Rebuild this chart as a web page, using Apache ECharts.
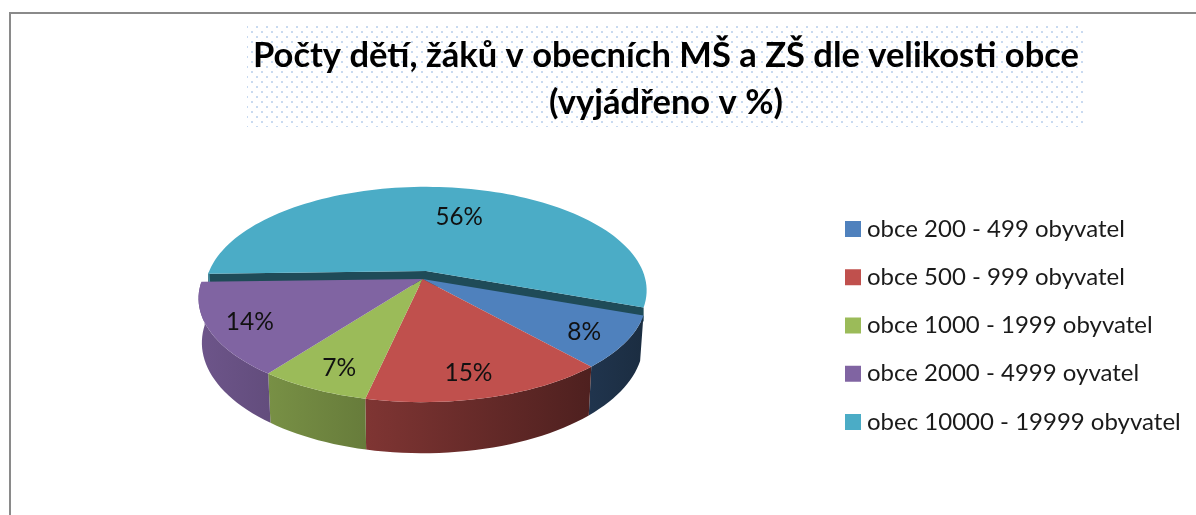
<!DOCTYPE html>
<html>
<head>
<meta charset="utf-8">
<style>
  html, body { margin: 0; padding: 0; background: #fff; }
  #chart { width: 1196px; height: 515px; }
</style>
</head>
<body>
<div id="chart"></div>
<script src="https://cdn.jsdelivr.net/npm/echarts@6/dist/echarts.min.js"></script>
<script>
const titleLines = ["Počty dětí, žáků v obecních MŠ a ZŠ dle velikosti obce", "(vyjádřeno v %)"];
const categories = [
  "obce 200 - 499 obyvatel",
  "obce 500 - 999 obyvatel",
  "obce 1000 - 1999 obyvatel",
  "obce 2000 - 4999 oyvatel",
  "obec 10000 - 19999 obyvatel"
];
const percents = [8, 14.85, 6.75, 14.4, 56];
const colors = ["#4f81bd", "#c0504d", "#9bbb59", "#8064a2", "#4bacc6"];

// geometria de la torta en perspectiva
const cx = 422.5, cy = 279, rx = 220, ry = 100, persp = 0.188, wallHeight = 43;
const firstAngle = 110; // grados, en sentido horario desde arriba
const explodedSlice = 4, explodeX = 3.5, explodeY = -8, explodeScale = 0.985, bandDepth = 14;
const labelRadius = [0.8, 0.78, 0.8, 0.8, 0.66];
const labelShift = [[3, 4], [-4, 6], [1, 5], [-5, 3], [13, 4]];
const total = percents.reduce((a, b) => a + b, 0);

// punto del disco: ang en grados, r de 0 a 1, bottom = disco inferior
function project(ang, r, bottom) {
  const t = ang * Math.PI / 180;
  const u = Math.sin(t) * r, v = -Math.cos(t) * r;
  const f = 1 / (1 - persp * v);
  const k = bottom ? 0.985 : 1;
  return [cx + rx * u * f * k, cy + ry * v * f * k + (bottom ? wallHeight * f : 0)];
}

// luz de las paredes: mas clara a la izquierda, oscura a la derecha
function shade(hex, x) {
  const s = Math.max(0.34, Math.min(0.85, 0.85 - (x - 200) * (0.5 / 440)));
  const n = parseInt(hex.slice(1), 16);
  return "rgb(" + [(n >> 16) & 255, (n >> 8) & 255, n & 255].map((c) => Math.round(c * s)).join(",") + ")";
}

function arcPoints(from, to, bottom) {
  const pts = [];
  const steps = Math.max(2, Math.ceil(Math.abs(to - from) / 2));
  for (let i = 0; i <= steps; i++) pts.push(project(from + (to - from) * i / steps, 1, bottom));
  return pts;
}

function renderSlice(index) {
  return function () {
    const start = firstAngle + percents.slice(0, index).reduce((a, b) => a + b, 0) / total * 360;
    const end = start + percents[index] / total * 360;
    const color = colors[index];
    const exploded = index === explodedSlice;
    const children = [];

    // pared radial de la porcion separada: solo asoma una franja
    if (exploded) {
      const apex = project(0, 0, false);
      [start, end].forEach((a) => {
        const rim = project(a, 1, false);
        children.push({
          type: "polygon",
          shape: { points: [apex, rim, [rim[0], rim[1] + bandDepth], [apex[0], apex[1] + bandDepth]] },
          style: { fill: "#1f4b58" }
        });
      });
    }

    // pared exterior: solo el tramo frontal (de 90 a 270 grados)
    const from = Math.max(start, 90), to = Math.min(end, 270);
    if (to > from) {
      const top = arcPoints(from, to, false);
      const bot = arcPoints(from, to, true).reverse();
      const xs = top.map((p) => p[0]);
      const x0 = Math.min(...xs), x1 = Math.max(...xs);
      children.push({
        type: "polygon",
        shape: { points: top.concat(bot) },
        style: {
          fill: {
            type: "linear", x: x0, y: 0, x2: x1, y2: 0, global: true,
            colorStops: [
              { offset: 0, color: shade(color, x0) },
              { offset: 1, color: shade(color, x1) }
            ]
          }
        }
      });
    }

    // cara superior
    children.push({
      type: "polygon",
      shape: { points: [project(0, 0, false)].concat(arcPoints(start, end, false)) },
      style: { fill: color }
    });

    const mid = (start + end) / 2;
    const lp = project(mid, labelRadius[index], false);
    children.push({
      type: "text",
      x: lp[0] + labelShift[index][0],
      y: lp[1] + labelShift[index][1],
      style: {
        text: Math.round(percents[index]) + "%",
        align: "center",
        verticalAlign: "middle",
        fontFamily: "Lato",
        fontSize: 24.5,
        fill: "#111"
      }
    });

    return {
      type: "group",
      x: exploded ? explodeX : 0,
      y: exploded ? explodeY : 0,
      originX: cx,
      scaleX: exploded ? explodeScale : 1,
      children
    };
  };
}

// trama punteada detras del titulo
const dots = document.createElement("canvas");
dots.width = 10;
dots.height = 10;
const dc = dots.getContext("2d");
dc.fillStyle = "#c9daf0";
dc.fillRect(1, 1, 2, 2);
dc.fillRect(6, 6, 2, 2);

const chart = echarts.init(document.getElementById("chart"), null, { renderer: "canvas" });
chart.setOption({
  animation: false,
  backgroundColor: "#fff",
  title: {
    text: titleLines.join("\n"),
    left: 666,
    top: 32,
    padding: 0,
    textAlign: "center",
    textStyle: { fontFamily: "Lato", fontWeight: "bold", fontSize: 34.5, lineHeight: 47, color: "#000" }
  },
  legend: {
    orient: "vertical",
    left: 845,
    top: 217,
    padding: 0,
    data: categories.map((name) => ({ name, icon: "rect" })),
    itemWidth: 16,
    itemHeight: 16,
    itemGap: 24.25,
    textStyle: { fontFamily: "Lato", fontSize: 24, color: "#1a1a1a", padding: [0, 0, 0, 1] }
  },
  graphic: [
    {
      type: "polyline",
      z: -1,
      shape: { points: [[10, 515], [10, 13], [1196, 13]] },
      style: { stroke: "#8a8a8a", lineWidth: 2, fill: null }
    },
    {
      type: "rect",
      z: -1,
      shape: { x: 247, y: 24, width: 839, height: 103 },
      style: { fill: { image: dots, repeat: "repeat" } }
    }
  ],
  series: categories.map((name, i) => ({
    name,
    type: "custom",
    coordinateSystem: "none",
    z: i === explodedSlice ? 1 : 2,
    silent: true,
    itemStyle: { color: colors[i] },
    data: [percents[i]],
    renderItem: renderSlice(i)
  }))
});
window.addEventListener("resize", chart.resize);
</script>
</body>
</html>
